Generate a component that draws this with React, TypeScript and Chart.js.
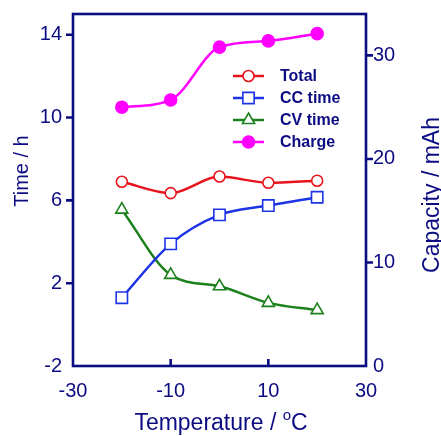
import React, { useEffect, useRef } from 'react';
import { Chart, registerables } from 'chart.js';
Chart.register(...registerables);

const temps = [-20, -10, 0, 10, 20];
const total = [6.9, 6.35, 7.15, 6.85, 6.95];
const ccTime = [1.3, 3.9, 5.3, 5.75, 6.15];
const cvTime = [5.55, 2.4, 1.85, 1.05, 0.7];
const charge = [25.0, 25.7, 30.8, 31.4, 32.1];
const xTicks = [-30, -10, 10, 30];
const leftTicks = [-2, 2, 6, 10, 14];
const rightTicks = [0, 10, 20, 30];
const seriesNames = ['Total', 'CC time', 'CV time', 'Charge'];

const NAVY = '#0c0c82';
const RED = '#e8141c';
const BLUE = '#1c34e6';
const GREEN = '#1c801c';
const MAGENTA = '#ff00ff';
const FONT = '"Liberation Sans", Arial, sans-serif';

const styles = [
  { color: RED, style: 'circle', radius: 5.5, fill: '#ffffff' },
  { color: BLUE, style: 'rect', radius: 8, fill: '#ffffff' },
  { color: GREEN, style: 'triangle', radius: 7, fill: '#ffffff' },
  { color: MAGENTA, style: 'circle', radius: 6, fill: MAGENTA },
];

function marker(ctx: CanvasRenderingContext2D, st: any, x: number, y: number) {
  ctx.save();
  ctx.beginPath();
  const r = st.radius;
  if (st.style === 'circle') {
    ctx.arc(x, y, r, 0, Math.PI * 2);
  } else if (st.style === 'rect') {
    const s = r * Math.SQRT1_2;
    ctx.rect(x - s, y - s, 2 * s, 2 * s);
  } else {
    let a = 0;
    ctx.moveTo(x + Math.sin(a) * r, y - Math.cos(a) * r);
    a += (2 * Math.PI) / 3;
    ctx.lineTo(x + Math.sin(a) * r, y - Math.cos(a) * r);
    a += (2 * Math.PI) / 3;
    ctx.lineTo(x + Math.sin(a) * r, y - Math.cos(a) * r);
    ctx.closePath();
  }
  ctx.fillStyle = st.fill;
  ctx.fill();
  ctx.lineWidth = 1.6;
  ctx.strokeStyle = st.color;
  ctx.stroke();
  ctx.restore();
}

const framePlugin = {
  id: 'frame',
  beforeDatasetsDraw(chart: any) {
    const { ctx, chartArea: a, scales } = chart;
    ctx.save();
    ctx.strokeStyle = NAVY;
    ctx.lineWidth = 2.6;
    ctx.strokeRect(a.left, a.top, a.right - a.left, a.bottom - a.top);
    ctx.beginPath();
    leftTicks.forEach((v) => {
      if (v === scales.y.min) return;
      const y = scales.y.getPixelForValue(v);
      ctx.moveTo(a.left - 7, y);
      ctx.lineTo(a.left, y);
    });
    rightTicks.forEach((v) => {
      if (v === scales.y1.min) return;
      const y = scales.y1.getPixelForValue(v);
      ctx.moveTo(a.right, y);
      ctx.lineTo(a.right + 7, y);
    });
    xTicks.forEach((v) => {
      if (v === scales.x.min || v === scales.x.max) return;
      const x = scales.x.getPixelForValue(v);
      ctx.moveTo(x, a.bottom);
      ctx.lineTo(x, a.bottom - 7);
    });
    ctx.stroke();
    ctx.restore();
  },
  afterDraw(chart: any) {
    const { ctx, chartArea: a } = chart;
    ctx.save();
    ctx.fillStyle = NAVY;
    // axis titles
    ctx.font = `20px ${FONT}`;
    ctx.textAlign = 'center';
    ctx.textBaseline = 'middle';
    ctx.save();
    ctx.translate(22, 171);
    ctx.rotate(-Math.PI / 2);
    ctx.fillText('Time / h', 0, 0);
    ctx.restore();
    ctx.save();
    ctx.font = `23px ${FONT}`;
    ctx.textBaseline = 'alphabetic';
    ctx.translate(439, 195);
    ctx.rotate(-Math.PI / 2);
    ctx.fillText('Capacity / mAh', 0, 0);
    ctx.restore();
    // bottom title with superscript o
    ctx.textBaseline = 'alphabetic';
    ctx.textAlign = 'left';
    const p1 = 'Temperature / ';
    const p3 = 'C';
    ctx.font = `23px ${FONT}`;
    const w1 = ctx.measureText(p1).width;
    const w3 = ctx.measureText(p3).width;
    ctx.font = `15px ${FONT}`;
    const w2 = ctx.measureText('o').width;
    const tw = w1 + w2 + w3;
    const cx = (a.left + a.right) / 2 + 1.5;
    let x = cx - tw / 2;
    const base = 430;
    ctx.font = `23px ${FONT}`;
    ctx.fillText(p1, x, base);
    x += w1;
    ctx.font = `15px ${FONT}`;
    ctx.fillText('o', x, base - 10);
    x += w2;
    ctx.font = `23px ${FONT}`;
    ctx.fillText(p3, x, base);
    // legend
    const rows = [76, 98, 120, 142];
    ctx.font = `bold 16px ${FONT}`;
    ctx.textBaseline = 'middle';
    seriesNames.forEach((name, i) => {
      const st = styles[i];
      const y = rows[i];
      ctx.strokeStyle = st.color;
      ctx.lineWidth = 2.5;
      ctx.beginPath();
      ctx.moveTo(233, y);
      ctx.lineTo(264, y);
      ctx.stroke();
      marker(ctx, st, 248.5, y);
      ctx.fillStyle = NAVY;
      ctx.fillText(name, 280, y + 1);
    });
    ctx.restore();
  },
};

export default function App() {
  const ref = useRef<HTMLCanvasElement>(null);
  useEffect(() => {
    document.body.style.margin = '0';
    const mk = (vals: number[]) => temps.map((t, i) => ({ x: t, y: vals[i] }));
    const series = [total, ccTime, cvTime, charge];
    const chart = new Chart(ref.current as HTMLCanvasElement, {
      type: 'line',
      data: {
        datasets: series.map((vals, i) => ({
          label: seriesNames[i],
          data: mk(vals),
          yAxisID: i === 3 ? 'y1' : 'y',
          borderColor: styles[i].color,
          borderWidth: 2.5,
          backgroundColor: styles[i].fill,
          pointStyle: styles[i].style as any,
          pointRadius: styles[i].radius,
          pointBorderWidth: 1.6,
          pointBackgroundColor: styles[i].fill,
          pointBorderColor: styles[i].color,
          cubicInterpolationMode: 'monotone',
          fill: false,
        })),
      },
      options: {
        animation: false,
        responsive: true,
        maintainAspectRatio: false,
        layout: { padding: { top: 14, left: 0, right: 0, bottom: 0 } },
        plugins: { legend: { display: false }, tooltip: { enabled: false } },
        scales: {
          x: {
            type: 'linear',
            min: -30,
            max: 30,
            afterBuildTicks: (s: any) => { s.ticks = xTicks.map((v) => ({ value: v })); },
            afterFit: (s: any) => { s.height = 70; s.paddingLeft = 0; s.paddingRight = 0; },
            grid: { display: false, drawTicks: false },
            border: { display: false },
            ticks: { color: NAVY, font: { family: FONT, size: 20 }, padding: 13, maxRotation: 0 },
          },
          y: {
            type: 'linear',
            position: 'left',
            min: -2,
            max: 15,
            afterBuildTicks: (s: any) => { s.ticks = leftTicks.map((v) => ({ value: v })); },
            afterFit: (s: any) => { s.width = 73; s.paddingTop = 0; s.paddingBottom = 0; },
            grid: { display: false, drawTicks: false },
            border: { display: false },
            ticks: { color: NAVY, font: { family: FONT, size: 20 }, padding: 11 },
          },
          y1: {
            type: 'linear',
            position: 'right',
            min: 0,
            max: 34,
            afterBuildTicks: (s: any) => { s.ticks = rightTicks.map((v) => ({ value: v })); },
            afterFit: (s: any) => { s.width = 75; s.paddingTop = 0; s.paddingBottom = 0; },
            grid: { display: false, drawTicks: false },
            border: { display: false },
            ticks: { color: NAVY, font: { family: FONT, size: 20 }, padding: 7 },
          },
        },
      },
      plugins: [framePlugin],
    } as any);
    return () => chart.destroy();
  }, []);
  return (
    <div style={{ width: 441, height: 436, position: 'relative' }}>
      <canvas ref={ref} />
    </div>
  );
}
